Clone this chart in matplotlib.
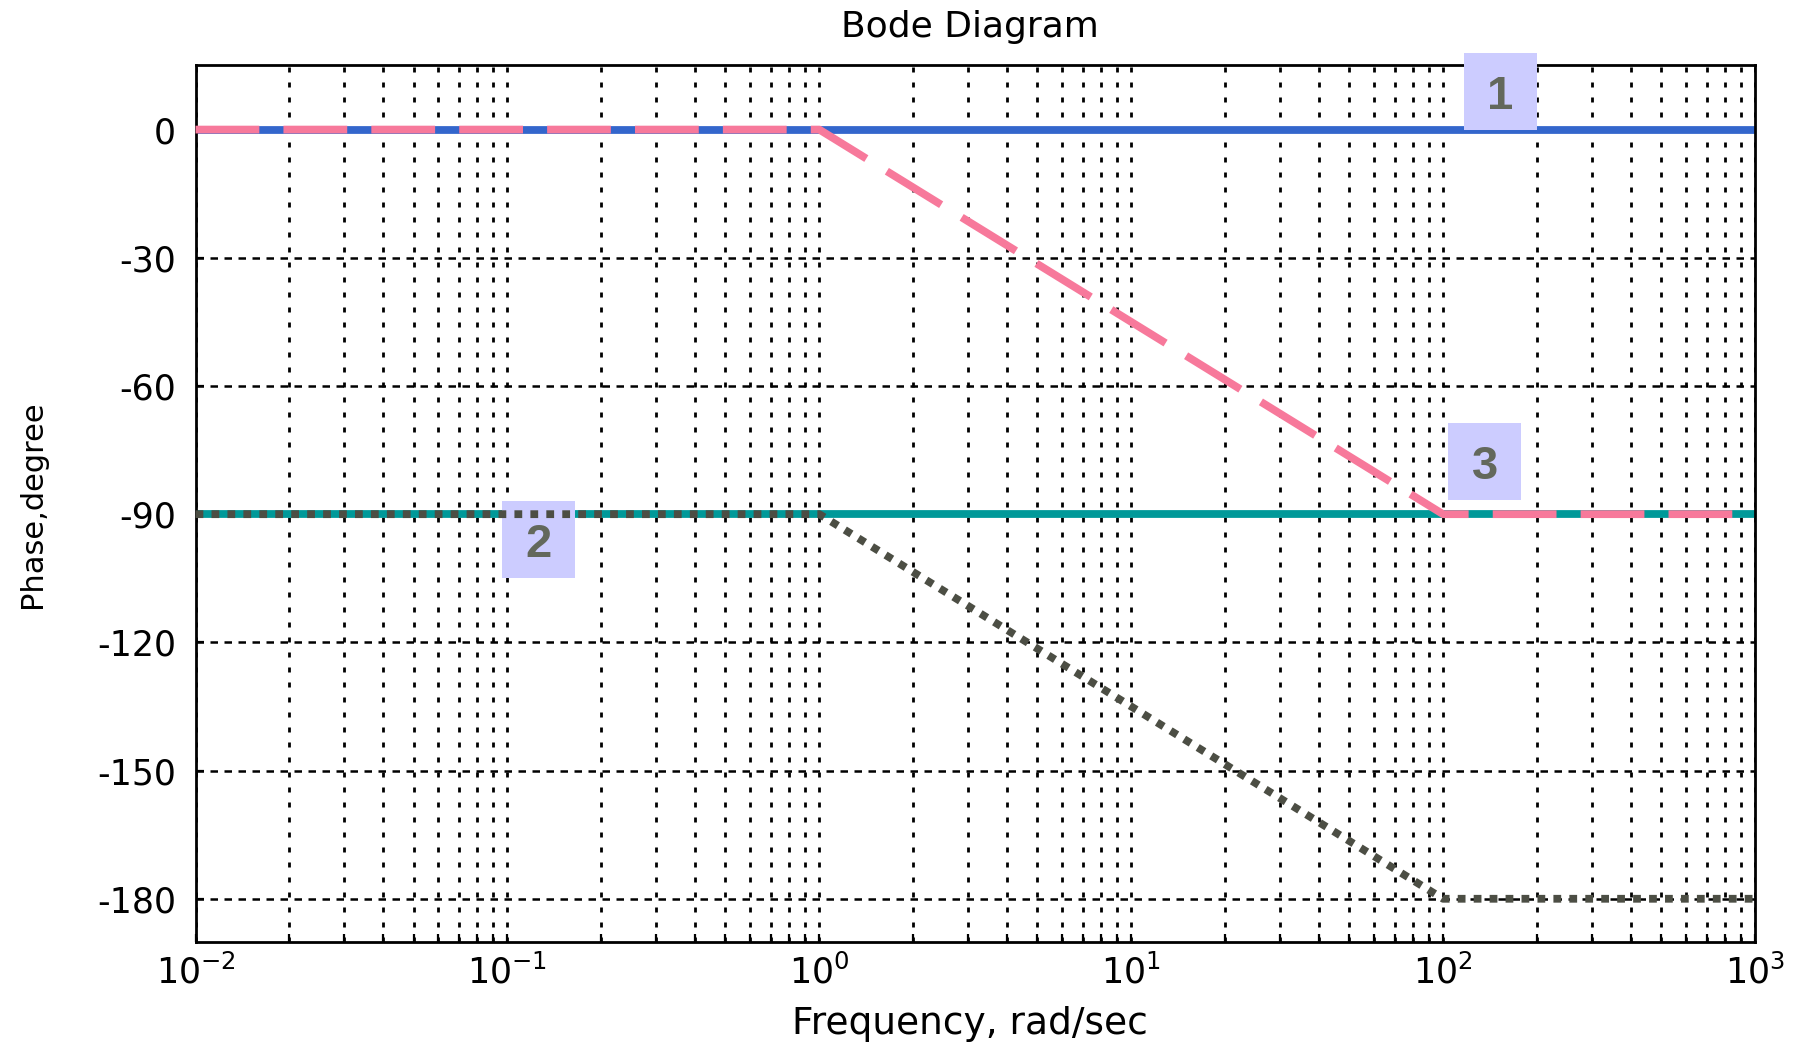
import matplotlib
matplotlib.use("Agg")
import matplotlib.pyplot as plt
import matplotlib.transforms as mtransforms
from matplotlib.patches import Rectangle
from matplotlib.ticker import LogLocator, FixedLocator, NullFormatter

# Asymptotic phase curves (frequency in rad/sec, phase in degrees)
freq = [1e-2, 1e0, 1e2, 1e3]
phase_gain = [0, 0, 0, 0]                 # 1: constant gain
phase_integrator = [-90, -90, -90, -90]   # 2: integrator
phase_lag = [0, 0, -90, -90]              # 3: first-order lag (asymptote)
phase_total = [-90, -90, -180, -180]      # sum of 2 and 3

yticks = [0, -30, -60, -90, -120, -150, -180]
xticks = [1e-2, 1e-1, 1e0, 1e1, 1e2, 1e3]
xtick_labels = [r"$\mathregular{10^{-2}}$", r"$\mathregular{10^{-1}}$",
                r"$\mathregular{10^{0}}$", r"$\mathregular{10^{1}}$",
                r"$\mathregular{10^{2}}$", r"$\mathregular{10^{3}}$"]

# Curve tags: text, frequency, phase
tag_text = ["1", "2", "3"]
tag_freq = [153, 0.126, 136]
tag_phase = [8.8, -96.0, -77.7]

DPI = 100
plt.rcParams["font.family"] = ["DejaVu Sans"]

fig = plt.figure(figsize=(18.04, 10.46), dpi=DPI)
ax = fig.add_axes([0.1084, 0.0999, 0.8644, 0.8375])

ax.set_xscale("log")
ax.set_xlim(1e-2, 1e3)
ax.set_ylim(-190, 15)

# grid: vertical lines at every decade subdivision, horizontal at every 30 deg
ax.xaxis.set_major_locator(FixedLocator(xticks))
ax.xaxis.set_minor_locator(LogLocator(base=10, subs=range(2, 10)))
ax.xaxis.set_minor_formatter(NullFormatter())
ax.set_xticklabels(xtick_labels)
ax.set_yticks(yticks)
ax.set_yticklabels([str(v) for v in yticks])

ax.grid(axis="x", which="both", color="black", linewidth=2.0,
        linestyle=(0, (1.8, 3.6)), zorder=0)
ax.grid(axis="y", which="major", color="black", linewidth=1.8,
        linestyle=(0, (3.0, 2.6)), zorder=0)
ax.set_axisbelow(True)

ax.tick_params(axis="both", which="both", direction="in", length=6, width=1.6,
               top=False, right=False, color="black")
ax.tick_params(axis="y", labelsize=25, pad=14)
ax.tick_params(axis="x", labelsize=25, pad=9)
for sp in ax.spines.values():
    sp.set_linewidth(2.0)
    sp.set_color("black")

# curves
ax.plot(freq, phase_gain, color="#3366CC", linewidth=5.6,
        solid_capstyle="butt", clip_on=False, zorder=2)
ax.plot(freq, phase_integrator, color="#009999", linewidth=5.6,
        solid_capstyle="butt", clip_on=False, zorder=2)
ax.plot(freq, phase_lag, color="#F7799B", linewidth=5.6,
        dashes=(8.2, 3.1), dash_capstyle="butt", clip_on=False, zorder=5)
ax.plot(freq, phase_total, color="#4C4E44", linewidth=5.6,
        dashes=(1.0, 1.05), dash_capstyle="butt", clip_on=False, zorder=5)

# tags: lavender boxes with bold digits
box_w, box_h = 73, 77  # pixels
for s, fx, py in zip(tag_text, tag_freq, tag_phase):
    tr = mtransforms.ScaledTranslation(fx, py, ax.transData)
    ax.add_patch(Rectangle((-box_w / 2, -box_h / 2), box_w, box_h,
                           transform=tr, facecolor="#CCCCFF",
                           edgecolor="none", clip_on=False, zorder=3))
    ax.annotate(s, xy=(fx, py), xytext=(0, -12.2), textcoords="offset points",
                ha="center", va="baseline", fontsize=34, fontweight="bold",
                family=["Liberation Sans", "DejaVu Sans"], color="#63685C",
                annotation_clip=False, zorder=6)

fig.text(0.5377, 1 - 27 / 1046, "Bode Diagram", ha="center", va="center",
         fontsize=26, color="black")
fig.text(0.5377, 1 - 1024 / 1046, "Frequency, rad/sec", ha="center",
         va="center", fontsize=27, color="black")
fig.text(33 / 1804, 1 - 504 / 1046, "Phase,degree", ha="center", va="center",
         rotation=90, fontsize=22, color="black")

fig.savefig("out.png", dpi=DPI)
